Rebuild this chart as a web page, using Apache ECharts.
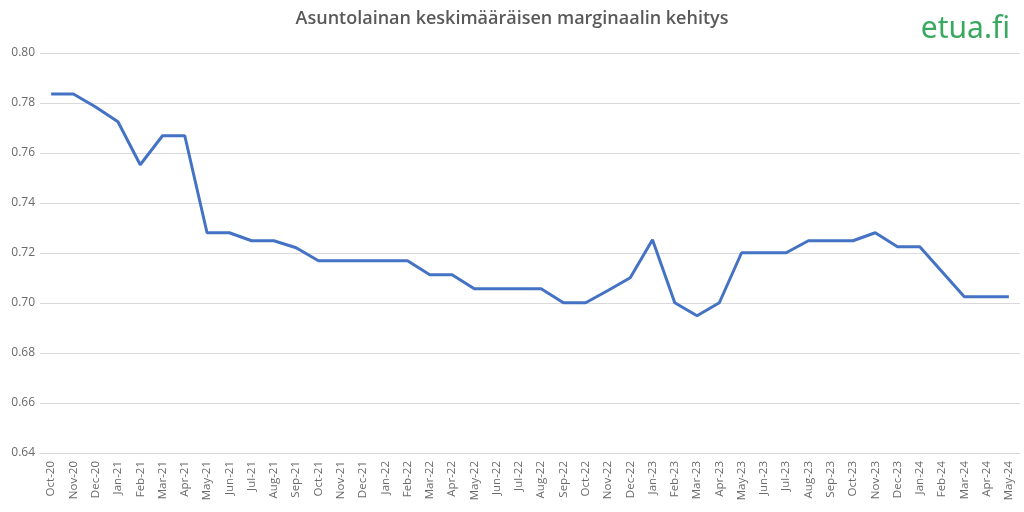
<!DOCTYPE html>
<html>
<head>
<meta charset="utf-8">
<script src="https://cdn.jsdelivr.net/npm/echarts@6/dist/echarts.min.js"></script>
<style>
html, body { margin: 0; padding: 0; background: #fff; }
#main { width: 1024px; height: 512px; }
</style>
</head>
<body>
<div id="main"></div>
<script>
// kuukaudet
var months = ['Oct-20', 'Nov-20', 'Dec-20', 'Jan-21', 'Feb-21', 'Mar-21', 'Apr-21', 'May-21', 'Jun-21', 'Jul-21', 'Aug-21',
    'Sep-21', 'Oct-21', 'Nov-21', 'Dec-21', 'Jan-22', 'Feb-22', 'Mar-22', 'Apr-22', 'May-22', 'Jun-22', 'Jul-22',
    'Aug-22', 'Sep-22', 'Oct-22', 'Nov-22', 'Dec-22', 'Jan-23', 'Feb-23', 'Mar-23', 'Apr-23', 'May-23', 'Jun-23',
    'Jul-23', 'Aug-23', 'Sep-23', 'Oct-23', 'Nov-23', 'Dec-23', 'Jan-24', 'Feb-24', 'Mar-24', 'Apr-24', 'May-24'];

// keskimääräinen marginaali
var margin = [0.7836, 0.7836, 0.7784, 0.7725, 0.7553, 0.7669, 0.7669, 0.7281, 0.7281, 0.7249, 0.7249,
    0.7221, 0.7169, 0.7169, 0.7169, 0.7169, 0.7169, 0.7113, 0.7113, 0.7057, 0.7057, 0.7057,
    0.7057, 0.7001, 0.7001, 0.7050, 0.7101, 0.7253, 0.7001, 0.6949, 0.7001, 0.7201, 0.7201,
    0.7201, 0.7249, 0.7249, 0.7249, 0.7281, 0.7225, 0.7225, 0.7125, 0.7025, 0.7025, 0.7025];

var titleText = 'Asuntolainan keskimääräisen marginaalin kehitys';
var logoText = 'etua.fi';

var dom = document.getElementById('main');
var myChart = echarts.init(dom);

var option = {
    backgroundColor: '#ffffff',
    animation: false,
    title: {
        text: titleText,
        left: 'center',
        top: 5,
        textStyle: {
            fontFamily: 'Open Sans',
            fontSize: 18,
            fontWeight: 600,
            color: '#595959'
        }
    },
    graphic: [{
        type: 'text',
        right: 14,
        top: 14,
        style: {
            text: logoText,
            fontFamily: 'Noto Sans',
            fontSize: 30,
            fill: '#3aa860'
        }
    }],
    grid: {
        left: 40,
        right: 4,
        top: 53,
        bottom: 59
    },
    xAxis: {
        type: 'category',
        data: months,
        boundaryGap: true,
        axisLine: { lineStyle: { color: '#d9d9d9' } },
        axisTick: { show: false },
        axisLabel: {
            rotate: 90,
            interval: 0,
            margin: 8,
            fontFamily: 'Open Sans',
            fontSize: 11.5,
            color: '#6a6a6a'
        }
    },
    yAxis: {
        type: 'value',
        min: 0.64,
        max: 0.80,
        interval: 0.02,
        axisLine: { show: false },
        axisTick: { show: false },
        splitLine: { lineStyle: { color: '#d9d9d9' } },
        axisLabel: {
            margin: 5,
            fontFamily: 'Open Sans',
            fontSize: 12,
            color: '#6a6a6a',
            formatter: function (v) { return v.toFixed(2); }
        }
    },
    series: [{
        type: 'line',
        data: margin,
        showSymbol: false,
        lineStyle: { color: '#4472c4', width: 3 },
        itemStyle: { color: '#4472c4' }
    }]
};

myChart.setOption(option, true);
</script>
</body>
</html>
